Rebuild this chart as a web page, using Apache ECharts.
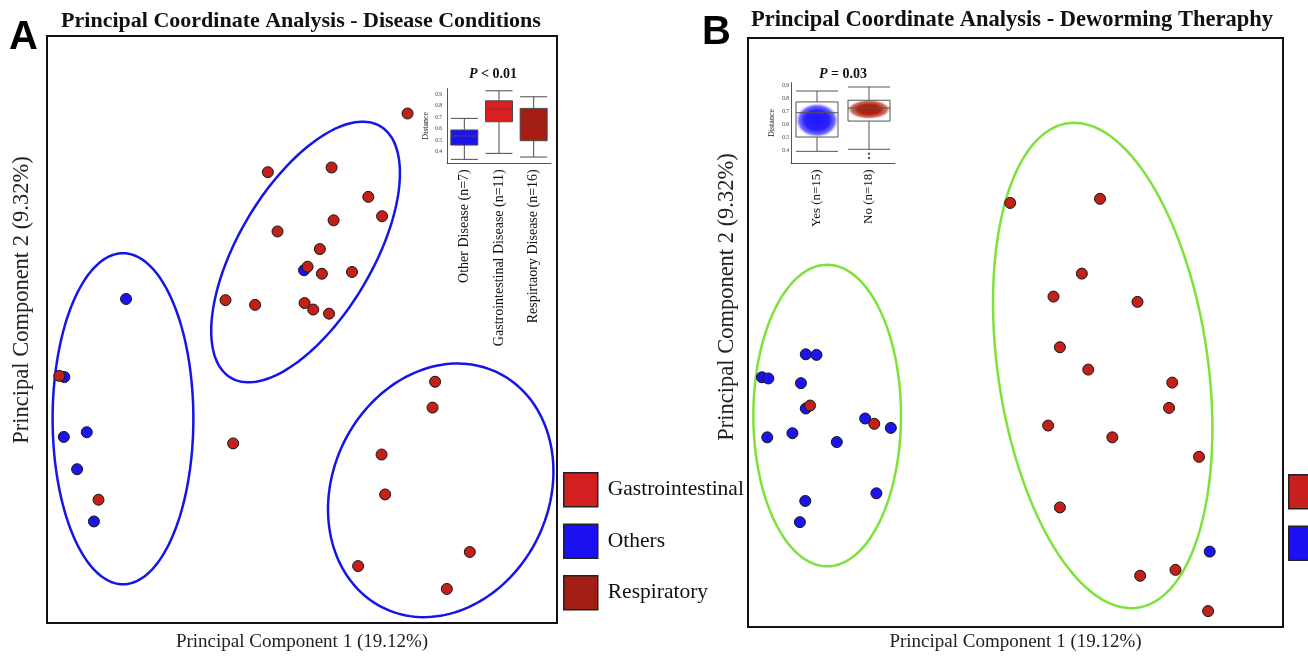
<!DOCTYPE html>
<html>
<head>
<meta charset="utf-8">
<title>PCoA</title>
<script src="https://cdn.jsdelivr.net/npm/echarts@6/dist/echarts.min.js"></script>
<style>
html, body { margin: 0; padding: 0; background: #fff; }
#chart { width: 1308px; height: 657px; }
</style>
</head>
<body>
<div id="chart"></div>
<script>
// ---- panel A: PCoA coloured by disease (PC1, PC2 in arbitrary units) ----
const aOthers = [[-34.5, 5.2], [-46.6, -8.1], [-46.7, -18.3], [-42.2, -17.5], [-44.1, -23.8], [-40.8, -32.7], [0.4, 10.1]];
const aRespiratory = [[20.7, 36.8], [-6.7, 26.8], [5.8, 27.6], [13.0, 22.6], [15.7, 19.3], [6.2, 18.6], [-4.8, 16.7], [3.5, 13.7],
  [1.1, 10.7], [3.9, 9.5], [9.8, 9.8], [-15.0, 5.0], [-9.2, 4.2], [0.5, 4.5], [2.2, 3.4], [5.3, 2.7]];
const aGastro = [[-47.6, -7.9], [-39.9, -29.0], [-13.5, -19.4], [26.1, -8.9], [25.6, -13.3], [15.6, -21.3], [16.3, -28.1],
  [32.9, -37.9], [11.0, -40.3], [28.4, -44.2]];
// ellipses: [centerX, centerY, halfWidth, halfHeight, correlation]
const aEllipses = [[-35.1, -15.2, 13.8, 28.2, 0], [0.7, 13.2, 18.5, 22.2, 0.605], [27.2, -27.4, 22.1, 21.6, 0.149]];

// ---- panel B: PCoA coloured by deworming ----
const bYes = [[-39.2, -3.7], [-37.2, -3.8], [-47.4, -7.6], [-46.2, -7.8], [-40.1, -8.6], [-39.2, -12.9], [-28.1, -14.6], [-23.3, -16.2],
  [-46.4, -17.8], [-41.7, -17.1], [-33.4, -18.6], [-26.0, -27.3], [-39.3, -28.6], [-40.3, -32.2], [36.3, -37.2]];
const bNo = [[-38.4, -12.4], [-26.4, -15.5], [-1.0, 22.0], [15.8, 22.7], [12.4, 10.0], [7.1, 6.1], [22.8, 5.2], [8.3, -2.5],
  [13.6, -6.3], [29.3, -8.5], [28.7, -12.8], [6.1, -15.8], [18.1, -17.8], [34.3, -21.1], [8.3, -29.7], [23.3, -41.3],
  [29.9, -40.3], [36.0, -47.3]];
const bEllipses = [[-35.2, -14.1, 13.8, 25.6, 0], [16.3, -5.6, 20.5, 41.2, -0.26]];

// ---- inset box plots: [min, Q1, median, Q3, max] ----
const aBoxCats = ['Other Disease (n=7)', 'Gastrointestinal Disease (n=11)', 'Respirtaory Disease (n=16)'];
const aBoxVals = [[0.334, 0.458, 0.537, 0.589, 0.690], [0.386, 0.661, 0.769, 0.843, 0.930], [0.354, 0.496, 0.661, 0.777, 0.878]];
const bBoxCats = ['Yes (n=15)', 'No (n=18)'];
const bBoxVals = [[0.392, 0.502, 0.689, 0.772, 0.856], [0.408, 0.625, 0.725, 0.785, 0.887]];
const bBoxOutliers = [[1, 0.374], [1, 0.341]];
const bBlobs = [[0, 0.631], [1, 0.715]];

const SERIF = '"Liberation Serif", "Times New Roman", serif';
const SANS = '"Liberation Sans", Arial, sans-serif';
const RED = '#c4201a';
const BLUE = '#1c14ee';
const aBoxColors = ['#1a12f2', '#d91f1f', '#a51d13'];

function ellipseRenderer(color) {
  return function (params, api) {
    const cx = api.value(0), cy = api.value(1), hx = api.value(2), hy = api.value(3), r = api.value(4);
    const k = Math.sqrt(1 - r * r);
    const pts = [];
    for (let i = 0; i <= 160; i++) {
      const t = i / 160 * Math.PI * 2;
      pts.push(api.coord([cx + hx * Math.cos(t), cy + hy * (r * Math.cos(t) + k * Math.sin(t))]));
    }
    return { type: 'polyline', shape: { points: pts }, style: { fill: 'none', stroke: color, lineWidth: 2.5 } };
  };
}

function blobRenderer(params, api) {
  const c = api.coord([api.value(0), api.value(1)]);
  const r = api.size([1, 0])[0] * 0.43;
  const blue = params.dataIndex === 0;
  const stops = blue
    ? [{ offset: 0, color: '#2016ff' }, { offset: 0.55, color: '#2a20ff' }, { offset: 0.8, color: 'rgba(70,60,255,0.75)' }, { offset: 1, color: 'rgba(255,255,255,0)' }]
    : [{ offset: 0, color: '#a81d0c' }, { offset: 0.5, color: '#b3240f' }, { offset: 0.8, color: 'rgba(190,60,40,0.7)' }, { offset: 1, color: 'rgba(255,255,255,0)' }];
  return {
    type: 'circle', x: c[0], y: c[1], scaleY: blue ? 0.8 : 0.45,
    shape: { cx: 0, cy: 0, r: r },
    style: { fill: new echarts.graphic.RadialGradient(0.5, 0.5, 0.5, stops) }
  };
}

const pointStyle = (color) => ({ color: color, borderColor: '#151515', borderWidth: 1, opacity: 1 });

const mainAxis = (gridIndex, name, gap) => ({
  type: 'value', gridIndex: gridIndex, min: -50, max: 50,
  axisLine: { show: false }, axisTick: { show: false }, axisLabel: { show: false }, splitLine: { show: false },
  name: name, nameLocation: 'middle', nameGap: gap,
  nameTextStyle: { fontFamily: SERIF, fontSize: 19, color: '#222' }
});

const hiddenY = (gridIndex) => ({
  type: 'value', gridIndex: gridIndex, min: -50, max: 50,
  axisLine: { show: false }, axisTick: { show: false }, axisLabel: { show: false }, splitLine: { show: false }
});

const insetY = (gridIndex, max, gap, margin) => ({
  type: 'value', gridIndex: gridIndex, min: 0.3, max: max, interval: 0.1,
  axisLine: { show: true, lineStyle: { color: '#555', width: 1 } },
  axisTick: { show: false }, splitLine: { show: false },
  axisLabel: { fontFamily: SERIF, fontSize: 5.5, color: '#333', margin: margin, showMinLabel: false, showMaxLabel: false,
    formatter: v => v.toFixed(1) },
  name: 'Distance', nameLocation: 'middle', nameGap: gap,
  nameTextStyle: { fontFamily: SERIF, fontSize: 8, color: '#222' }
});

const insetX = (gridIndex, cats, size) => ({
  type: 'category', gridIndex: gridIndex, data: cats,
  axisLine: { lineStyle: { color: '#555', width: 1 } }, axisTick: { show: false },
  axisLabel: { rotate: 90, interval: 0, fontFamily: SERIF, fontSize: size, color: '#111', margin: 6 }
});

const pStyle = { fontFamily: SERIF, fontWeight: 'bold', fontSize: 14, color: '#111',
  rich: { i: { fontStyle: 'italic', fontWeight: 'bold', fontSize: 14, fontFamily: SERIF, color: '#111' } } };

const option = {
  animation: false,
  backgroundColor: '#fff',
  textStyle: { fontFamily: SERIF },
  title: [
    { text: 'A', left: 9, top: 18, padding: 0, textStyle: { fontFamily: SANS, fontWeight: 'bold', fontSize: 40, color: '#000' } },
    { text: 'B', left: 702, top: 13, padding: 0, textStyle: { fontFamily: SANS, fontWeight: 'bold', fontSize: 40, color: '#000' } },
    { text: 'Principal Coordinate Analysis - Disease Conditions', left: 301, top: 10, padding: 0, textAlign: 'center',
      textStyle: { fontFamily: SERIF, fontWeight: 'bold', fontSize: 22, color: '#111' } },
    { text: 'Principal Coordinate Analysis - Deworming Theraphy', left: 1012, top: 9, padding: 0, textAlign: 'center',
      textStyle: { fontFamily: SERIF, fontWeight: 'bold', fontSize: 22.5, color: '#111' } },
    { text: '{i|P} < 0.01', left: 493, top: 67, padding: 0, textAlign: 'center', textStyle: pStyle },
    { text: '{i|P} = 0.03', left: 843, top: 67, padding: 0, textAlign: 'center', textStyle: pStyle }
  ],
  graphic: [
    { type: 'text', x: 22, y: 300, rotation: Math.PI / 2, silent: true,
      style: { text: 'Principal Component 2 (9.32%)', font: '22.5px "Liberation Serif"', fill: '#222', align: 'center', verticalAlign: 'middle' } },
    { type: 'text', x: 727, y: 297, rotation: Math.PI / 2, silent: true,
      style: { text: 'Principal Component 2 (9.32%)', font: '22.5px "Liberation Serif"', fill: '#222', align: 'center', verticalAlign: 'middle' } }
  ],
  legend: [
    {
      data: [
        { name: 'Gastrointestinal', itemStyle: { color: '#d21f1f' } },
        { name: 'Others', itemStyle: { color: '#1a10f2' } },
        { name: 'Respiratory', itemStyle: { color: '#a21d14' } }
      ],
      orient: 'vertical', left: 563, top: 472, padding: 0, itemWidth: 34, itemHeight: 34, itemGap: 16, icon: 'rect',
      selectedMode: false, itemStyle: { borderColor: '#222', borderWidth: 1.5 },
      textStyle: { fontFamily: SERIF, fontSize: 21.5, color: '#111', padding: [0, 0, 0, 5] }
    },
    {
      data: [
        { name: 'No', itemStyle: { color: '#c91f1f' } },
        { name: 'Yes', itemStyle: { color: '#1a10f2' } }
      ],
      orient: 'vertical', left: 1288, top: 474, padding: 0, itemWidth: 34, itemHeight: 34, itemGap: 16, icon: 'rect',
      selectedMode: false, itemStyle: { borderColor: '#222', borderWidth: 1.5 },
      textStyle: { fontFamily: SERIF, fontSize: 21.5, color: '#111', padding: [0, 0, 0, 5] }
    }
  ],
  grid: [
    { left: 47, top: 36, width: 510, height: 587, show: true, borderColor: '#111', borderWidth: 2, backgroundColor: 'transparent' },
    { left: 748, top: 38, width: 535, height: 590, show: true, borderColor: '#111', borderWidth: 2, backgroundColor: 'transparent' },
    { left: 447, top: 88.5, width: 104, height: 74.75 },
    { left: 791, top: 82.7, width: 104, height: 80.6 }
  ],
  xAxis: [
    mainAxis(0, 'Principal Component 1 (19.12%)', 10),
    mainAxis(1, 'Principal Component 1 (19.12%)', 6),
    insetX(2, aBoxCats, 14),
    insetX(3, bBoxCats, 13)
  ],
  yAxis: [
    hiddenY(0),
    hiddenY(1),
    insetY(2, 0.95, 17, 5),
    insetY(3, 0.92, 15, 2)
  ],
  series: [
    { type: 'custom', xAxisIndex: 0, yAxisIndex: 0, data: aEllipses, encode: { x: 0, y: 1 }, renderItem: ellipseRenderer('#1515e8'), z: 1, silent: true },
    { type: 'custom', xAxisIndex: 1, yAxisIndex: 1, data: bEllipses, encode: { x: 0, y: 1 }, renderItem: ellipseRenderer('#7fe23a'), z: 1, silent: true },
    { name: 'Others', type: 'scatter', xAxisIndex: 0, yAxisIndex: 0, data: aOthers, symbolSize: 11, itemStyle: pointStyle(BLUE), z: 3 },
    { name: 'Respiratory', type: 'scatter', xAxisIndex: 0, yAxisIndex: 0, data: aRespiratory, symbolSize: 11, itemStyle: pointStyle(RED), z: 4 },
    { name: 'Gastrointestinal', type: 'scatter', xAxisIndex: 0, yAxisIndex: 0, data: aGastro, symbolSize: 11, itemStyle: pointStyle(RED), z: 4 },
    { name: 'Yes', type: 'scatter', xAxisIndex: 1, yAxisIndex: 1, data: bYes, symbolSize: 11, itemStyle: pointStyle(BLUE), z: 3 },
    { name: 'No', type: 'scatter', xAxisIndex: 1, yAxisIndex: 1, data: bNo, symbolSize: 11, itemStyle: pointStyle(RED), z: 4 },
    {
      type: 'boxplot', xAxisIndex: 2, yAxisIndex: 2, boxWidth: [27, 28], z: 3,
      itemStyle: { borderColor: '#4a4a4a', borderWidth: 1 },
      data: aBoxVals.map((v, i) => ({ value: v, itemStyle: { color: aBoxColors[i] } }))
    },
    { type: 'custom', xAxisIndex: 3, yAxisIndex: 3, data: bBlobs, encode: { x: 0, y: 1 }, renderItem: blobRenderer, z: 2, silent: true },
    {
      type: 'boxplot', xAxisIndex: 3, yAxisIndex: 3, boxWidth: [42, 42], z: 3,
      itemStyle: { color: 'rgba(0,0,0,0)', borderColor: '#555', borderWidth: 1 },
      data: bBoxVals
    },
    { type: 'scatter', xAxisIndex: 3, yAxisIndex: 3, data: bBoxOutliers, symbolSize: 2.5, itemStyle: { color: '#333' }, z: 4 }
  ]
};

const chart = echarts.init(document.getElementById('chart'));
chart.setOption(option);
</script>
</body>
</html>
